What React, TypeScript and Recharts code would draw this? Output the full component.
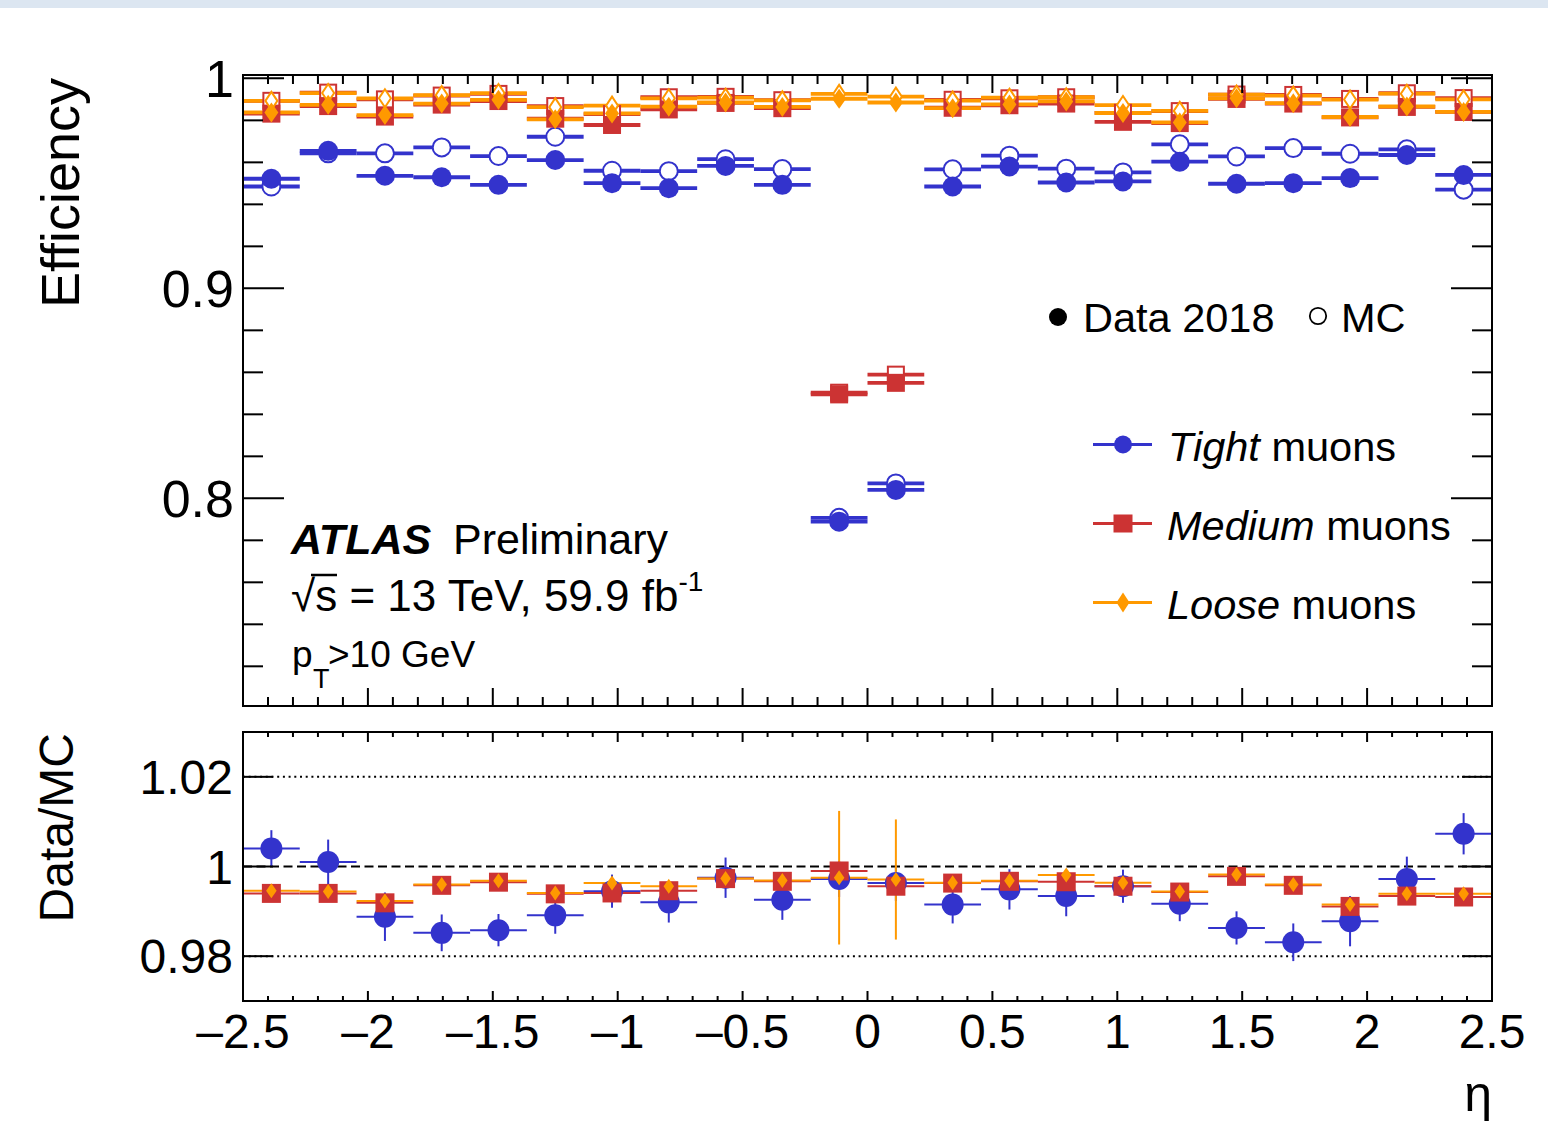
import React from 'react';
import { ComposedChart, Scatter, XAxis, YAxis, ErrorBar, ReferenceLine } from 'recharts';

const FONT = '"Liberation Sans", Arial, Helvetica, sans-serif';
const BLUE = '#3333cc';
const RED = '#cc3333';
const ORANGE = '#ff9900';

// ---- data ----
const etaCenters = [-2.3864, -2.1591, -1.9318, -1.7045, -1.4773, -1.25, -1.0227, -0.7955, -0.5682, -0.3409, -0.1136,
  0.1136, 0.3409, 0.5682, 0.7955, 1.0227, 1.25, 1.4773, 1.7045, 1.9318, 2.1591, 2.3864];
const etaHalfWidth = 0.1136;

const tightData = [0.9522, 0.9655, 0.9536, 0.9529, 0.9493, 0.9611, 0.9501, 0.9477, 0.9583, 0.9493, 0.7889,
  0.8040, 0.9485, 0.9580, 0.9504, 0.9509, 0.9603, 0.9498, 0.9501, 0.9525, 0.9635, 0.9540];
const tightMC = [0.9485, 0.9643, 0.9643, 0.9671, 0.9630, 0.9722, 0.9560, 0.9558, 0.9615, 0.9568, 0.7907,
  0.8071, 0.9567, 0.9632, 0.9570, 0.9552, 0.9686, 0.9628, 0.9668, 0.9641, 0.9662, 0.9470];
const mediumData = [0.9832, 0.9868, 0.9818, 0.9875, 0.9892, 0.9808, 0.9778, 0.9852, 0.9883, 0.9858, 0.8495,
  0.8550, 0.9860, 0.9872, 0.9880, 0.9793, 0.9787, 0.9902, 0.9880, 0.9814, 0.9864, 0.9840];
const mediumMC = [0.9893, 0.9932, 0.9900, 0.9918, 0.9926, 0.9868, 0.9830, 0.9910, 0.9912, 0.9896, 0.8503,
  0.8589, 0.9898, 0.9905, 0.9910, 0.9836, 0.9844, 0.9923, 0.9921, 0.9902, 0.9929, 0.9906];
const looseData = [0.9838, 0.9874, 0.9825, 0.9880, 0.9898, 0.9805, 0.9833, 0.9865, 0.9885, 0.9864, 0.9903,
  0.9885, 0.9858, 0.9876, 0.9890, 0.9835, 0.9790, 0.9905, 0.9882, 0.9816, 0.9866, 0.9840];
const looseMC = [0.9893, 0.9930, 0.9905, 0.9920, 0.9930, 0.9863, 0.9870, 0.9905, 0.9908, 0.9895, 0.9926,
  0.9913, 0.9894, 0.9908, 0.9910, 0.9873, 0.9845, 0.9923, 0.9918, 0.9899, 0.9927, 0.9900];

const tightRatio = [1.0040, 1.0010, 0.9888, 0.9852, 0.9858, 0.9891, 0.9945, 0.9920, 0.9975, 0.9926, 0.9972,
  0.9963, 0.9915, 0.9949, 0.9934, 0.9956, 0.9917, 0.9863, 0.9831, 0.9878, 0.9972, 1.0073];
const tightRatioErr = [0.0041, 0.0050, 0.0054, 0.0041, 0.0036, 0.0041, 0.0037, 0.0045, 0.0045, 0.0045, 0.0040,
  0.0040, 0.0042, 0.0045, 0.0045, 0.0037, 0.0039, 0.0037, 0.0042, 0.0056, 0.0050, 0.0046];
const mediumRatio = [0.9940, 0.9940, 0.9919, 0.9958, 0.9965, 0.9939, 0.9941, 0.9946, 0.9973, 0.9967, 0.9990,
  0.9956, 0.9963, 0.9967, 0.9966, 0.9956, 0.9943, 0.9978, 0.9958, 0.9911, 0.9934, 0.9932];
const mediumRatioErr = [0.001, 0.001, 0.001, 0.001, 0.001, 0.001, 0.001, 0.001, 0.001, 0.001, 0.002,
  0.002, 0.001, 0.001, 0.001, 0.001, 0.001, 0.001, 0.001, 0.001, 0.001, 0.001];
const looseRatio = [0.9946, 0.9944, 0.9923, 0.9960, 0.9968, 0.9941, 0.9963, 0.9956, 0.9973, 0.9969, 0.9975,
  0.9971, 0.9964, 0.9968, 0.9981, 0.9964, 0.9944, 0.9982, 0.9960, 0.9915, 0.9939, 0.9939];
const looseRatioErr = [0.001, 0.001, 0.001, 0.001, 0.001, 0.001, 0.001, 0.001, 0.001, 0.001, 0.0149,
  0.0134, 0.001, 0.001, 0.001, 0.001, 0.001, 0.001, 0.001, 0.001, 0.001, 0.001];

// ---- ticks ----
const xMajorTicks = [-2.5, -2, -1.5, -1, -0.5, 0, 0.5, 1, 1.5, 2, 2.5];
const xAllTicks = [-2.5, -2.4, -2.3, -2.2, -2.1, -2, -1.9, -1.8, -1.7, -1.6, -1.5, -1.4, -1.3, -1.2, -1.1, -1,
  -0.9, -0.8, -0.7, -0.6, -0.5, -0.4, -0.3, -0.2, -0.1, 0, 0.1, 0.2, 0.3, 0.4, 0.5, 0.6, 0.7, 0.8, 0.9, 1,
  1.1, 1.2, 1.3, 1.4, 1.5, 1.6, 1.7, 1.8, 1.9, 2, 2.1, 2.2, 2.3, 2.4, 2.5];
const effMajorTicks = [0.8, 0.9, 1.0];
const effAllTicks = [0.72, 0.74, 0.76, 0.78, 0.8, 0.82, 0.84, 0.86, 0.88, 0.9, 0.92, 0.94, 0.96, 0.98, 1.0];
const ratioTicks = [0.98, 1.0, 1.02];
const xDomain: [number, number] = [-2.5, 2.5];
const effDomain: [number, number] = [0.7011, 1.0016];
const ratioDomain: [number, number] = [0.97, 1.03];

const mk = (ys: number[], errs?: number[]) =>
  etaCenters.map((x, i) => ({ x, y: ys[i], ex: etaHalfWidth, ey: errs ? errs[i] : 0 }));

const fmt = (v: number) => {
  if (Math.abs(v) < 1e-9) return '0';
  const s = String(Math.round(v * 1000) / 1000);
  return s.replace('-', '\u2013');
};

type Side = 'left' | 'right' | 'top' | 'bottom';
const makeTick = (side: Side, majors: number[], majorLen: number, minorLen: number, label = false, fontSize = 48, gap = 10) =>
  (props: any) => {
    const { x, y, payload } = props;
    const v = payload.value as number;
    const major = majors.some((m) => Math.abs(m - v) < 1e-6);
    const len = major ? majorLen : minorLen;
    let x2 = x, y2 = y;
    if (side === 'left') x2 = x + len;
    else if (side === 'right') x2 = x - len;
    else if (side === 'top') y2 = y + len;
    else y2 = y - len;
    let text: any = null;
    if (label && major) {
      if (side === 'left') {
        text = <text x={x - gap} y={y + 0.36 * fontSize} textAnchor="end" fontSize={fontSize} fontFamily={FONT} fill="#000">{fmt(v)}</text>;
      } else if (side === 'bottom') {
        text = <text x={x} y={y + gap} textAnchor="middle" fontSize={fontSize} fontFamily={FONT} fill="#000">{fmt(v)}</text>;
      }
    }
    return (
      <g>
        <line x1={x} y1={y} x2={x2} y2={y2} stroke="#000" strokeWidth={2} />
        {text}
      </g>
    );
  };

type Kind = 'circle' | 'square' | 'diamond';
const markerShape = (kind: Kind, color: string, open: boolean, size: number, sw = 2) => (p: any) => {
  const { cx, cy } = p;
  if (cx == null || cy == null) return <g />;
  const fill = open ? '#fff' : color;
  const stroke = open ? color : 'none';
  const inset = open ? sw / 2 : 0;
  if (kind === 'circle') {
    return <circle cx={cx} cy={cy} r={size - inset} fill={fill} stroke={stroke} strokeWidth={sw} />;
  }
  if (kind === 'square') {
    const h = size - inset;
    return <rect x={cx - h} y={cy - h} width={2 * h} height={2 * h} fill={fill} stroke={stroke} strokeWidth={sw} />;
  }
  const hh = size - inset;
  const hw = size * 0.7 - inset;
  return (
    <polygon points={`${cx},${cy - hh} ${cx + hw},${cy} ${cx},${cy + hh} ${cx - hw},${cy}`}
      fill={fill} stroke={stroke} strokeWidth={sw} strokeLinejoin="miter" />
  );
};

const axisLine = { stroke: '#000', strokeWidth: 2, strokeLinecap: 'square' as const };

const topSeries = [
  { key: 'tmc', data: mk(tightMC), kind: 'circle' as Kind, color: BLUE, open: true, size: 10 },
  { key: 'td', data: mk(tightData), kind: 'circle' as Kind, color: BLUE, open: false, size: 10 },
  { key: 'mmc', data: mk(mediumMC), kind: 'square' as Kind, color: RED, open: true, size: 9 },
  { key: 'md', data: mk(mediumData), kind: 'square' as Kind, color: RED, open: false, size: 9 },
  { key: 'lmc', data: mk(looseMC), kind: 'diamond' as Kind, color: ORANGE, open: true, size: 10 },
  { key: 'ld', data: mk(looseData), kind: 'diamond' as Kind, color: ORANGE, open: false, size: 10 },
];

const ratioSeries = [
  { key: 'tr', data: mk(tightRatio, tightRatioErr), kind: 'circle' as Kind, color: BLUE, size: 11 },
  { key: 'mr', data: mk(mediumRatio, mediumRatioErr), kind: 'square' as Kind, color: RED, size: 9.5 },
  { key: 'lr', data: mk(looseRatio, looseRatioErr), kind: 'diamond' as Kind, color: ORANGE, size: 7.5 },
];

function TopChart() {
  return (
    <ComposedChart width={1548} height={720} margin={{ top: 74, right: 55, bottom: 13, left: 0 }}>
      <XAxis xAxisId="b" dataKey="x" type="number" domain={xDomain} allowDataOverflow ticks={xAllTicks} interval={0}
        height={1} tickSize={0} tickMargin={0} tickLine={false} axisLine={axisLine}
        tick={makeTick('bottom', xMajorTicks, 18, 9)} />
      <XAxis xAxisId="t" orientation="top" dataKey="x" type="number" domain={xDomain} allowDataOverflow ticks={xAllTicks} interval={0}
        height={1} tickSize={0} tickMargin={0} tickLine={false} axisLine={axisLine}
        tick={makeTick('top', xMajorTicks, 18, 9)} />
      <YAxis yAxisId="l" type="number" domain={effDomain} allowDataOverflow ticks={effAllTicks} interval={0}
        width={243} tickSize={0} tickMargin={0} tickLine={false} axisLine={axisLine}
        tick={makeTick('left', effMajorTicks, 41, 20, true, 52, 9)} />
      <YAxis yAxisId="r" orientation="right" type="number" domain={effDomain} allowDataOverflow ticks={effAllTicks} interval={0}
        width={1} tickSize={0} tickMargin={0} tickLine={false} axisLine={axisLine}
        tick={makeTick('right', effMajorTicks, 41, 20)} />
      {topSeries.map((s) => (
        <Scatter key={s.key} xAxisId="b" yAxisId="l" data={s.data} dataKey="y" isAnimationActive={false}
          shape={markerShape(s.kind, s.color, s.open, s.size, 2)}>
          <ErrorBar dataKey="ex" direction="x" width={0} stroke={s.color} strokeWidth={3.8} isAnimationActive={false} />
        </Scatter>
      ))}
    </ComposedChart>
  );
}

function RatioChart() {
  return (
    <ComposedChart width={1548} height={413} margin={{ top: 11, right: 55, bottom: 131, left: 0 }}>
      <XAxis xAxisId="b" dataKey="x" type="number" domain={xDomain} allowDataOverflow ticks={xAllTicks} interval={0}
        height={1} tickSize={0} tickMargin={0} tickLine={false} axisLine={axisLine}
        tick={makeTick('bottom', xMajorTicks, 10, 5, true, 48, 47)} />
      <XAxis xAxisId="t" orientation="top" dataKey="x" type="number" domain={xDomain} allowDataOverflow ticks={xAllTicks} interval={0}
        height={1} tickSize={0} tickMargin={0} tickLine={false} axisLine={axisLine}
        tick={makeTick('top', xMajorTicks, 10, 5)} />
      <YAxis yAxisId="l" type="number" domain={ratioDomain} allowDataOverflow ticks={ratioTicks} interval={0}
        width={243} tickSize={0} tickMargin={0} tickLine={false} axisLine={axisLine}
        tick={makeTick('left', ratioTicks, 30, 30, true, 48, 10)} />
      <YAxis yAxisId="r" orientation="right" type="number" domain={ratioDomain} allowDataOverflow ticks={ratioTicks} interval={0}
        width={1} tickSize={0} tickMargin={0} tickLine={false} axisLine={axisLine}
        tick={makeTick('right', ratioTicks, 30, 30)} />
      <ReferenceLine xAxisId="b" yAxisId="l" y={1.02} stroke="#000" strokeWidth={2} strokeDasharray="2 3.7" />
      <ReferenceLine xAxisId="b" yAxisId="l" y={0.98} stroke="#000" strokeWidth={2} strokeDasharray="2 3.7" />
      <ReferenceLine xAxisId="b" yAxisId="l" y={1.0} stroke="#000" strokeWidth={2} strokeDasharray="9 4.5" />
      {ratioSeries.map((s) => (
        <Scatter key={s.key} xAxisId="b" yAxisId="l" data={s.data} dataKey="y" isAnimationActive={false}
          shape={markerShape(s.kind, s.color, false, s.size, 2)}>
          <ErrorBar dataKey="ex" direction="x" width={0} stroke={s.color} strokeWidth={2} isAnimationActive={false} />
          <ErrorBar dataKey="ey" direction="y" width={0} stroke={s.color} strokeWidth={2} isAnimationActive={false} />
        </Scatter>
      ))}
    </ComposedChart>
  );
}

function Overlay() {
  return (
    <svg width={1548} height={1133} style={{ position: 'absolute', left: 0, top: 0, pointerEvents: 'none' }} fontFamily={FONT}>
      <text transform="translate(79,78) rotate(-90)" textAnchor="end" fontSize={54} fill="#000">Efficiency</text>
      <text transform="translate(73,733) rotate(-90)" textAnchor="end" fontSize={48} fill="#000">Data/MC</text>
      <text x={1492} y={1111} textAnchor="end" fontSize={50} fill="#000">η</text>

      {/* legend */}
      <circle cx={1058} cy={317} r={9} fill="#000" />
      <text x={1083} y={332} fontSize={41.5} fill="#000">Data 2018</text>
      <circle cx={1318} cy={316} r={8.2} fill="none" stroke="#000" strokeWidth={1.8} />
      <text x={1341} y={332} fontSize={41.5} fill="#000">MC</text>

      <line x1={1093} x2={1152} y1={444.5} y2={444.5} stroke={BLUE} strokeWidth={3} />
      <circle cx={1123} cy={444.5} r={9} fill={BLUE} />
      <text x={1168} y={461} fontSize={41.5} fill="#000"><tspan fontStyle="italic">Tight</tspan> muons</text>

      <line x1={1093} x2={1152} y1={523.5} y2={523.5} stroke={RED} strokeWidth={3} />
      <rect x={1113.5} y={514.5} width={19} height={18} fill={RED} />
      <text x={1167} y={540} fontSize={41.5} fill="#000"><tspan fontStyle="italic">Medium</tspan> muons</text>

      <line x1={1093} x2={1152} y1={602.5} y2={602.5} stroke={ORANGE} strokeWidth={3} />
      <polygon points="1123,592.5 1129.5,602.5 1123,612.5 1116.5,602.5" fill={ORANGE} />
      <text x={1167} y={619} fontSize={41.5} fill="#000"><tspan fontStyle="italic">Loose</tspan> muons</text>

      {/* ATLAS label */}
      <text x={291} y={554} fontSize={43} fontWeight="bold" fontStyle="italic" fill="#000">ATLAS</text>
      <text x={453} y={554} fontSize={43} fill="#000">Preliminary</text>
      <text x={291} y={611} fontSize={44} fill="#000">√<tspan>s = 13 TeV, 59.9 fb</tspan><tspan dy={-20} fontSize={28}>-1</tspan></text>
      <line x1={311} x2={337} y1={575} y2={575} stroke="#000" strokeWidth={2.5} />
      <text x={292} y={667} fontSize={37} fill="#000">p</text>
      <text x={313} y={688} fontSize={27} fill="#000">T</text>
      <text x={328} y={667} fontSize={37} fill="#000">&gt;10 GeV</text>
    </svg>
  );
}

export default function App() {
  return (
    <div style={{ position: 'absolute', left: 0, top: 0, width: 1548, height: 1133, background: '#fff', overflow: 'hidden' }}>
      <div style={{ position: 'absolute', left: 0, top: 0, width: 1548, height: 8, background: '#dce6f1' }} />
      <div style={{ position: 'absolute', left: 0, top: 0 }}>
        <TopChart />
      </div>
      <div style={{ position: 'absolute', left: 0, top: 720 }}>
        <RatioChart />
      </div>
      <Overlay />
    </div>
  );
}
